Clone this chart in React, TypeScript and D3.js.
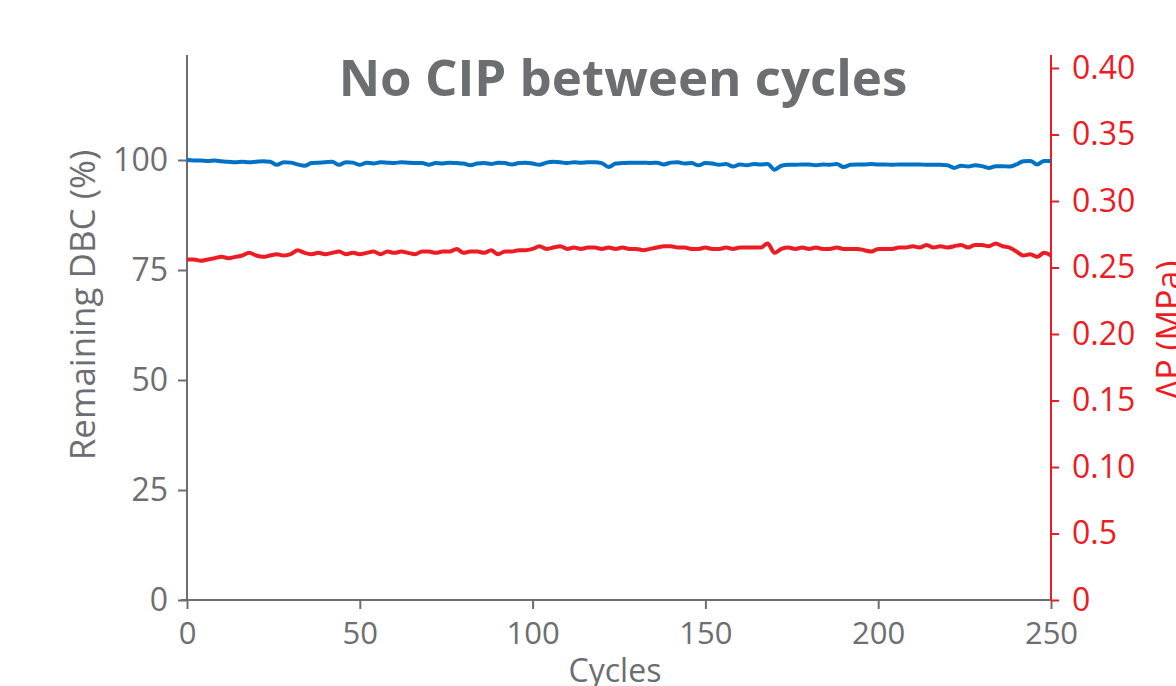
import { useEffect, useRef } from 'react';
import * as d3 from 'd3';

// sampled every 2 cycles
const cycles = d3.range(0, 251, 2);

const dbcValues = [
  100.0, 99.9, 99.9, 99.8, 99.9, 99.7, 99.6, 99.5, 99.6, 99.5,
  99.6, 99.7, 99.6, 98.9, 99.5, 99.4, 99.0, 98.7, 99.3, 99.4,
  99.5, 99.6, 98.9, 99.5, 99.4, 98.9, 99.4, 99.2, 99.5, 99.4,
  99.3, 99.5, 99.4, 99.3, 99.3, 98.9, 99.3, 99.2, 99.4, 99.3,
  99.2, 98.8, 99.2, 99.3, 99.1, 99.4, 99.3, 99.0, 99.3, 99.4,
  99.2, 98.9, 99.4, 99.6, 99.5, 99.3, 99.5, 99.4, 99.5, 99.5,
  99.3, 98.4, 99.2, 99.3, 99.4, 99.4, 99.4, 99.3, 99.4, 99.0,
  99.4, 99.5, 99.2, 99.3, 98.8, 99.3, 99.2, 98.9, 99.1, 98.5,
  99.0, 98.8, 99.1, 99.0, 99.1, 97.8, 98.7, 98.9, 98.9, 99.0,
  99.0, 98.8, 99.0, 98.9, 99.1, 98.4, 98.9, 99.0, 99.0, 99.1,
  99.0, 99.0, 98.9, 99.0, 99.0, 99.0, 99.0, 98.9, 98.9, 98.9,
  98.8, 98.2, 98.7, 98.5, 98.8, 98.6, 98.2, 98.6, 98.6, 98.5,
  99.0, 99.7, 99.8, 99.0, 99.8, 99.8,
];

const dpValues = [
  0.256, 0.256, 0.255, 0.256, 0.257, 0.258, 0.257, 0.258, 0.259, 0.261,
  0.259, 0.258, 0.259, 0.260, 0.259, 0.260, 0.263, 0.261, 0.260, 0.261,
  0.260, 0.261, 0.262, 0.260, 0.261, 0.260, 0.261, 0.262, 0.260, 0.262,
  0.261, 0.262, 0.261, 0.260, 0.262, 0.262, 0.261, 0.262, 0.262, 0.264,
  0.261, 0.262, 0.262, 0.261, 0.263, 0.260, 0.262, 0.262, 0.263, 0.263,
  0.264, 0.266, 0.264, 0.265, 0.266, 0.264, 0.265, 0.264, 0.265, 0.265,
  0.264, 0.265, 0.264, 0.265, 0.264, 0.264, 0.263, 0.264, 0.265, 0.266,
  0.266, 0.265, 0.265, 0.264, 0.264, 0.265, 0.264, 0.264, 0.265, 0.264,
  0.265, 0.265, 0.265, 0.265, 0.268, 0.261, 0.264, 0.265, 0.264, 0.265,
  0.264, 0.265, 0.264, 0.264, 0.265, 0.264, 0.264, 0.264, 0.263, 0.262,
  0.264, 0.264, 0.264, 0.265, 0.265, 0.266, 0.265, 0.267, 0.265, 0.266,
  0.265, 0.266, 0.267, 0.265, 0.267, 0.267, 0.266, 0.268, 0.266, 0.265,
  0.262, 0.259, 0.260, 0.258, 0.261, 0.259,
];

const xTicks = [0, 50, 100, 150, 200, 250];
const leftTicks = [0, 25, 50, 75, 100];
const rightTicks = [0, 0.05, 0.1, 0.15, 0.2, 0.25, 0.3, 0.35, 0.4];
const rightTickLabels = ['0', '0.5', '0.10', '0.15', '0.20', '0.25', '0.30', '0.35', '0.40'];

const GRAY = '#6d6e71';
const BLUE = '#0072c6';
const RED = '#ed1c24';
const FONT = '"Open Sans", "Noto Sans", sans-serif';

const App = () => {
  const svgRef = useRef(null);

  useEffect(() => {
    const width = 1176;
    const height = 686;

    const svg = d3.select(svgRef.current)
      .attr('width', width)
      .attr('height', height)
      .style('font-family', FONT);

    svg.selectAll('*').remove();

    const x = d3.scaleLinear().domain([0, 250]).range([187, 1051]);
    const yLeft = d3.scaleLinear().domain([0, 100]).range([600, 160]);
    const yRight = d3.scaleLinear().domain([0, 0.4]).range([600, 68]);
    const axisTop = 55;

    // title
    svg.append('text')
      .attr('x', 623)
      .attr('y', 96)
      .attr('text-anchor', 'middle')
      .attr('fill', GRAY)
      .style('font-size', '51px')
      .style('font-weight', 'bold')
      .text('No CIP between cycles');

    // left axis
    const gLeft = svg.append('g').attr('transform', `translate(${x(0)},0)`);
    const leftAxis = d3.axisLeft(yLeft).tickValues(leftTicks).tickSize(9).tickPadding(10).tickSizeOuter(0);
    gLeft.call(leftAxis);
    gLeft.select('.domain').remove();
    gLeft.append('line')
      .attr('y1', axisTop).attr('y2', yLeft(0))
      .attr('stroke', GRAY).attr('stroke-width', 2);
    gLeft.selectAll('.tick line').attr('stroke', GRAY).attr('stroke-width', 2);
    gLeft.selectAll('.tick text')
      .attr('fill', GRAY)
      .style('font-family', FONT)
      .style('font-size', '32px');

    // bottom axis
    const gBottom = svg.append('g').attr('transform', `translate(0,${yLeft(0)})`);
    const bottomAxis = d3.axisBottom(x).tickValues(xTicks).tickSize(9).tickPadding(13).tickSizeOuter(0);
    gBottom.call(bottomAxis);
    gBottom.select('.domain').remove();
    gBottom.append('line')
      .attr('x1', x(0) - 6).attr('x2', x(250))
      .attr('stroke', GRAY).attr('stroke-width', 2);
    gBottom.selectAll('.tick line').attr('stroke', GRAY).attr('stroke-width', 2);
    gBottom.selectAll('.tick text')
      .attr('fill', GRAY)
      .style('font-family', FONT)
      .style('font-size', '31px');

    // right axis
    const gRight = svg.append('g').attr('transform', `translate(${x(250)},0)`);
    const rightAxis = d3.axisRight(yRight)
      .tickValues(rightTicks)
      .tickFormat((d, i) => rightTickLabels[i])
      .tickSize(8).tickPadding(13).tickSizeOuter(0);
    gRight.call(rightAxis);
    gRight.select('.domain').remove();
    gRight.append('line')
      .attr('y1', axisTop).attr('y2', yRight(0))
      .attr('stroke', RED).attr('stroke-width', 2);
    gRight.selectAll('.tick line').attr('stroke', RED).attr('stroke-width', 2);
    gRight.selectAll('.tick text')
      .attr('fill', RED)
      .style('font-family', FONT)
      .style('font-size', '32px');

    // axis titles
    svg.append('text')
      .attr('transform', 'translate(95,305) rotate(-90)')
      .attr('text-anchor', 'middle')
      .attr('fill', GRAY)
      .style('font-size', '35px')
      .text('Remaining DBC (%)');

    svg.append('text')
      .attr('x', 615)
      .attr('y', 682)
      .attr('text-anchor', 'middle')
      .attr('fill', GRAY)
      .style('font-size', '32px')
      .text('Cycles');

    svg.append('text')
      .attr('transform', 'translate(1181,330) rotate(-90)')
      .attr('text-anchor', 'middle')
      .attr('fill', RED)
      .style('font-size', '34px')
      .text('ΔP (MPa)');

    // lines
    const dbcLine = d3.line()
      .x((d, i) => x(cycles[i]))
      .y(d => yLeft(d))
      .curve(d3.curveMonotoneX);

    const dpLine = d3.line()
      .x((d, i) => x(cycles[i]))
      .y(d => yRight(d))
      .curve(d3.curveMonotoneX);

    svg.append('path')
      .datum(dbcValues)
      .attr('d', dbcLine)
      .attr('fill', 'none')
      .attr('stroke', BLUE)
      .attr('stroke-width', 4)
      .attr('stroke-linejoin', 'round');

    svg.append('path')
      .datum(dpValues)
      .attr('d', dpLine)
      .attr('fill', 'none')
      .attr('stroke', RED)
      .attr('stroke-width', 4)
      .attr('stroke-linejoin', 'round');
  }, []);

  return (
    <div>
      <svg ref={svgRef} style={{ position: 'absolute', left: 0, top: 0 }}></svg>
    </div>
  );
};

export default App;
